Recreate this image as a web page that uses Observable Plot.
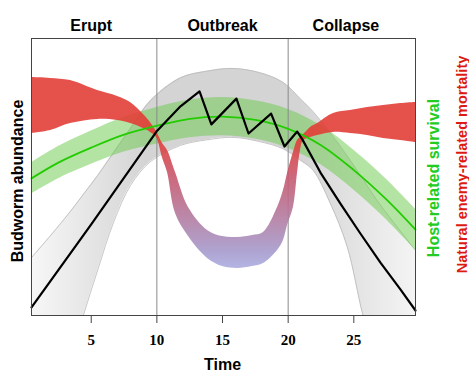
<!DOCTYPE html>
<html><head><meta charset="utf-8">
<script src="https://cdn.jsdelivr.net/npm/d3@7"></script>
<script src="https://cdn.jsdelivr.net/npm/@observablehq/plot@0.6"></script>
<style>body{margin:0;background:#fff;}</style>
</head><body><div id="chart"></div>
<script>
// Phase labels and boundaries
const phaseLabels = ["Erupt", "Outbreak", "Collapse"];
const phaseX = [5, 15, 24.4];
const phaseBounds = [10, 20];
const xTicks = [5, 10, 15, 20, 25];

// Budworm abundance (black line)
const blackX = [0.45, 5.0, 9.97, 11.8, 13.25, 14.15, 16.06, 16.98, 18.7, 19.72, 20.69, 21.09, 22.46, 23.98, 25.5, 27.03, 28.55, 29.7];
const blackY = [2.9, 32.9, 66.4, 75.5, 80.9, 69.0, 78.3, 65.7, 72.9, 61.0, 66.4, 63.5, 51.6, 40.4, 29.6, 19.1, 9.4, 1.8];

// Abundance uncertainty band (grey)
const grayX  = [0.45, 2.0, 3.4, 4.4, 5.5, 6.7, 8.0, 9.5, 11.8, 13.8, 15.8, 17.8, 19.6, 21.0, 21.9, 23.2, 24.5, 25.7, 26.7, 28.0, 29.7];
const grayHi = [20.9, 29.4, 37.5, 43.7, 50.6, 58.8, 67.6, 77.5, 85.8, 88.2, 89.2, 87.7, 84.2, 77.9, 73.6, 66.0, 57.6, 49.2, 42.0, 33.8, 23.5];
const grayLo = [-60, -45, -16, 0, 16.5, 33.6, 47.0, 55.5, 61.4, 63.4, 64.3, 62.8, 60.2, 55.8, 52.4, 40.6, 24.8, 0, -16, -45, -60];

// Host-related survival (green)
const greenX   = [0.45, 2.5, 5, 7.5, 10, 12.5, 15, 17.5, 20, 22.5, 25, 27.5, 29.7];
const greenMid = [49.5, 55.2, 60.6, 65.3, 68.5, 71.0, 71.8, 70.6, 67.4, 61.5, 52.5, 41.8, 31.0];
const greenHi  = [55.1, 61.0, 66.6, 71.6, 75.1, 77.8, 78.7, 77.5, 74.4, 68.6, 59.7, 49.1, 38.4];
const greenLo  = [43.9, 49.4, 54.6, 59.0, 61.9, 64.2, 64.9, 63.7, 60.4, 54.4, 45.3, 34.5, 23.6];

// Natural enemy-related mortality (red band)
const redX  = [0.45, 1.9, 3.42, 5.48, 7.0, 7.99, 8.98, 9.51, 9.97, 10.43, 10.81, 11.42, 12.41, 13.86, 15.0, 16.14, 17.28, 18.12, 19.19, 19.64, 19.95, 20.4, 20.71, 20.94, 21.17, 21.7, 22.24, 23.45, 24.74, 26.04, 27.26, 28.56, 29.7];
const redHi = [85.9, 85.6, 84.8, 81.2, 79.1, 76.9, 72.6, 69.7, 66.4, 62.1, 59.6, 51.6, 39.0, 30.7, 28.5, 28.2, 28.9, 30.0, 39.0, 45.1, 51.3, 58.8, 63.2, 64.3, 65.3, 67.9, 69.3, 72.9, 74.0, 75.1, 75.8, 76.5, 76.9];
const redLo = [65.7, 66.8, 69.3, 70.8, 70.4, 69.3, 67.5, 66.1, 64.3, 56.9, 51.6, 36.8, 28.5, 20.6, 17.7, 17.0, 17.7, 18.8, 23.5, 27.1, 32.5, 39.0, 51.3, 59.6, 63.2, 64.3, 65.0, 66.1, 65.7, 65.0, 63.9, 63.2, 62.5];

const blackRows = blackX.map((x, i) => ({x, y: blackY[i]}));
const grayRows = grayX.map((x, i) => ({x, hi: grayHi[i], lo: grayLo[i]}));
const greenRows = greenX.map((x, i) => ({x, mid: greenMid[i], hi: greenHi[i], lo: greenLo[i]}));
const redRows = redX.map((x, i) => ({x, hi: redHi[i], lo: redLo[i]}));
const phaseRows = phaseLabels.map((t, i) => ({t, x: phaseX[i]}));

const SANS = "Liberation Sans, Arial, sans-serif";

const svg = Plot.plot({
  width: 469,
  height: 377,
  marginLeft: 31,
  marginRight: 54,
  marginTop: 38,
  marginBottom: 62,
  style: {background: "white", fontFamily: SANS, overflow: "visible"},
  x: {domain: [0.45, 29.7]},
  y: {domain: [0, 100], axis: null},
  marks: [
    Plot.areaY(grayRows, {x: "x", y1: "lo", y2: "hi", fill: "url(#grayGrad)", curve: "catmull-rom", clip: true}),
    Plot.line(grayRows, {x: "x", y: "hi", stroke: "#b9b9b9", strokeWidth: 0.8, curve: "catmull-rom", clip: true}),
    Plot.line(grayRows, {x: "x", y: "lo", stroke: "#b9b9b9", strokeWidth: 0.8, curve: "catmull-rom", clip: true}),
    Plot.areaY(greenRows, {x: "x", y1: "lo", y2: "hi", fill: "rgb(105,201,73)", fillOpacity: 0.5, curve: "catmull-rom"}),
    Plot.ruleX(phaseBounds, {stroke: "#8a8a8a", strokeWidth: 1}),
    Plot.areaY(redRows, {x: "x", y1: "lo", y2: "hi", fill: "url(#redGrad)", fillOpacity: 0.9, curve: "catmull-rom"}),
    Plot.line(greenRows, {x: "x", y: "mid", stroke: "#22cc00", strokeWidth: 1.8, curve: "catmull-rom"}),
    Plot.line(blackRows, {x: "x", y: "y", stroke: "black", strokeWidth: 2.2}),
    Plot.frame({stroke: "#444", strokeWidth: 1}),
    Plot.axisX(xTicks, {tickSize: 8, tickPadding: 11, stroke: "#444", fill: "black", fontFamily: "Liberation Serif, Times New Roman, serif", fontWeight: "bold", fontSize: 15, label: null}),
    Plot.text(phaseRows, {x: "x", text: "t", frameAnchor: "top", dy: -19, fontSize: 16, fontWeight: "bold", fontFamily: SANS, fill: "black"}),
    Plot.text(["Time"], {x: 15, text: d => d, frameAnchor: "bottom", dy: 54, fontSize: 16, fontWeight: "bold", fontFamily: SANS, fill: "black"}),
    Plot.text(["Budworm abundance"], {text: d => d, frameAnchor: "left", textAnchor: "middle", rotate: -90, dx: -14, dy: 4, fontSize: 16, fontWeight: "bold", fontFamily: SANS, fill: "black"}),
    Plot.text(["Host-related survival"], {text: d => d, frameAnchor: "right", textAnchor: "middle", rotate: -90, dx: 18.5, dy: 1, fontSize: 16, fontWeight: "bold", fontFamily: SANS, fill: "#22cc22"}),
    Plot.text(["Natural enemy-related mortality"], {text: d => d, frameAnchor: "right", textAnchor: "middle", rotate: -90, dx: 47, dy: -12.5, fontSize: 14.5, fontWeight: "bold", fontFamily: SANS, fill: "#dd1a12"})
  ]
});

// gradients used as fills
const ns = "http://www.w3.org/2000/svg";
const defs = document.createElementNS(ns, "defs");
function el(name, attrs, parent) {
  const e = document.createElementNS(ns, name);
  for (const [k, v] of Object.entries(attrs)) e.setAttribute(k, v);
  if (parent) parent.appendChild(e);
  return e;
}
function grad(id, attrs, stops) {
  const g = el("linearGradient", Object.assign({id, gradientUnits: "userSpaceOnUse"}, attrs), defs);
  for (const [o, c] of stops) el("stop", {offset: o, "stop-color": c}, g);
}
grad("grayGrad", {x1: 31, y1: 0, x2: 415, y2: 0}, [[0, "#f7f7f7"], [0.3, "#d4d4d4"], [0.7, "#d4d4d4"], [1, "#f4f4f4"]]);
grad("redGrad", {x1: 0, y1: 140, x2: 0, y2: 268}, [[0, "#e23e37"], [0.27, "#c8566c"], [0.59, "#b47a9e"], [0.86, "#a699cb"], [1, "#abacdf"]]);
svg.insertBefore(defs, svg.firstChild);

document.getElementById("chart").appendChild(svg);
</script>
</body></html>
